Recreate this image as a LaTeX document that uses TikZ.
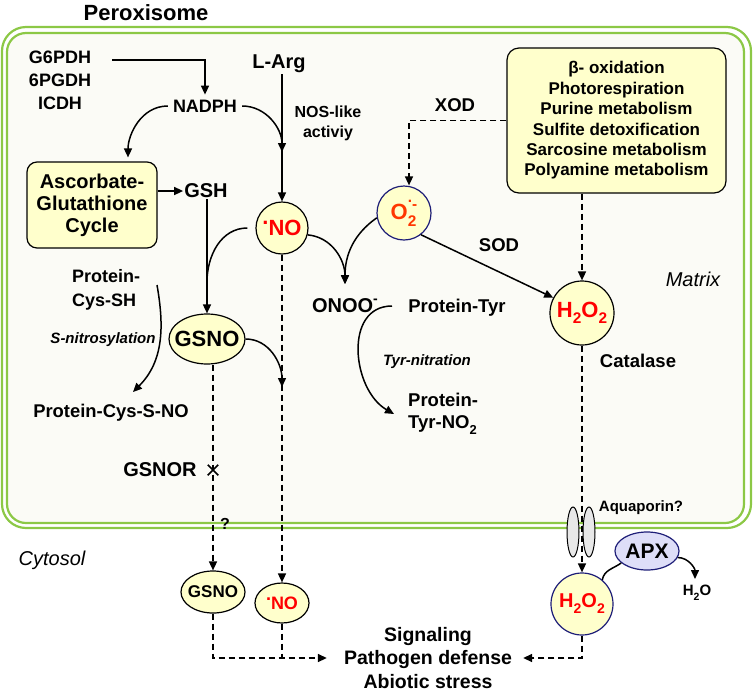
\documentclass[tikz,border=0pt]{standalone}
\usepackage{fontspec}
\usepackage{graphicx}
\setmainfont{Liberation Sans}
\usetikzlibrary{arrows.meta,shapes.geometric,shapes.misc,calc}
\definecolor{memb}{RGB}{140,200,70}
\definecolor{yel}{RGB}{255,255,204}
\definecolor{inside}{RGB}{251,251,246}
\definecolor{lav}{RGB}{222,222,248}
\definecolor{navy}{RGB}{30,30,120}
\definecolor{ored}{RGB}{255,55,0}
\definecolor{aqg}{RGB}{232,232,232}
\newcommand\fs[2]{\fontsize{#1}{#2}\selectfont}
\newcommand\mysub[1]{\raisebox{-0.3em}{\scalebox{0.7}{#1}}}
\newcommand\mysup[1]{\raisebox{0.45em}{\scalebox{0.7}{#1}}}
\newcommand\rdot{\raisebox{0.5em}{.}}
\begin{document}
\begin{tikzpicture}[x=1pt,y=-1pt,
  every node/.style={inner sep=1pt},
  arr/.style={line width=1.5pt,-{Triangle[length=9pt,width=8pt]}},
  ln/.style={line width=1.5pt},
  darr/.style={line width=1.5pt,dash pattern=on 6pt off 4pt,-{Triangle[length=9pt,width=8pt]}},
  dln/.style={line width=1.5pt,dash pattern=on 6pt off 4pt},
  ybox/.style={draw,line width=1.2pt,fill=yel,rounded corners=10pt,align=center},
  ycirc/.style={circle,draw,line width=1.2pt,fill=yel,minimum size=#1,inner sep=0pt},
  yell/.style={ellipse,draw,line width=1.2pt,fill=yel,inner sep=0pt},
  b18/.style={font=\bfseries\fs{18}{22}},
  b20/.style={font=\bfseries\fs{20}{24}},
]
\useasboundingbox (0,0) rectangle (753,697);
% membrane
\draw[memb,line width=2.2pt,rounded corners=24pt] (2,27) rectangle (751,528);
\draw[memb,line width=2.2pt,fill=inside,rounded corners=19pt] (7,33) rectangle (744,523);
\node[font=\bfseries\fs{22}{26}] (perox) at (146,13) {Peroxisome};

% top left
\node[font=\bfseries\fs{18}{23},align=center] (enz) at (60,80) {G6PDH\\6PGDH\\ICDH};
\coordinate (e1) at (112,60);
\node[b18,inner sep=5pt] (nadph) at (205,106) {NADPH};
\node[b20] (larg) at (279,64) {L-Arg};
\node[font=\bfseries\fs{16}{20},align=center] (nos) at (328,123) {NOS-like\\activiy};
\node[ybox,font=\bfseries\fs{20}{22},minimum width=130pt,minimum height=86pt] (asc) at (92,205) {Ascorbate-\\Glutathione\\Cycle};
\node[b20] (gsh) at (206,191) {GSH};

% NO
\node[ycirc=52pt,text=red,font=\bfseries\fs{22}{24}] (no) at (282,228) {\rdot NO};
\coordinate (j1) at (282,152);
\draw[arr] (e1) -| (nadph.north);
\draw[arr] (nadph.east) to[out=0,in=90] (j1);
\draw[arr] (larg.south -| no.north) -- (no.north);
\draw[arr,shorten >=4pt] (nadph.west) to[out=180,in=90] ([xshift=36pt]asc.north);
\draw[arr] (asc.east |- gsh.west) -- (gsh.west);

% O2 and box
\node[ycirc=54pt,draw=navy,text=ored,font=\bfseries\fs{22}{24}] (o2) at (404,213) {O\rlap{\mysub{2}}\mysup{\rdot-}};
\node[ybox,font=\bfseries\fs{17}{20.4},minimum width=219pt,minimum height=145pt,rounded corners=12pt] (box) at (616.5,120.5) {β- oxidation\\Photorespiration\\Purine metabolism\\Sulfite detoxification\\Sarcosine metabolism\\Polyamine metabolism};
\node[font=\bfseries\fs{18.5}{22}] (xod) at (455,105) {XOD};
\draw[darr] (box.west) -| ([xshift=5pt]o2.north);
\node[ycirc=64pt,text=red,font=\bfseries\fs{22}{24}] (h2o2) at (582,313) {H\mysub{2}O\mysub{2}};
\draw[darr] (box.south -| h2o2.north) -- (h2o2.north);
\draw[arr] (o2.-52) -- (h2o2.152);
\node[font=\bfseries\fs{18.5}{22}] (sod) at (499,245) {SOD};
\node[font=\itshape\fs{20}{24}] (matrix) at (693,279) {Matrix};
\node[font=\bfseries\fs{18.5}{22}] (cat) at (638,361) {Catalase};

% GSNO
\node[yell,minimum width=76pt,minimum height=50pt] (gsno) at (207,339) {};
\node[font=\bfseries\fs{22}{24}] (gsnot) at (gsno) {GSNO};
\draw[arr] (gsh.south -| gsno.north) -- (gsno.north);
\coordinate (j2) at (207,282);
\draw[ln] ([xshift=-8pt]no.west) to[out=180,in=90] (j2);

% ONOO
\node[font=\bfseries\fs{20}{24}] (onoo) at (345,306) {ONOO\mysup{-}};
\coordinate (j3) at (345,284);
\draw[arr] (no.-15) to[out=-5,in=90] (j3);
\draw[arr] (o2.190) to[out=215,in=90] (j3);
\node[font=\bfseries\fs{18.5}{22}] (ptyr) at (457,308) {Protein-Tyr};
\node[font=\bfseries\itshape\fs{15}{18}] (tyrn) at (427,362) {Tyr-nitration};
\node[font=\bfseries\fs{18.5}{22},align=left,anchor=west] (ptno) at (407,414) {Protein-\\Tyr-NO\mysub{2}};
\coordinate (c2) at (392,306);
\draw[arr] (c2) to[out=180,in=150,looseness=1.15] ([xshift=-13pt]ptno.west);

% Cys
\node[font=\bfseries\fs{18}{24},align=left,anchor=west] (pcys) at (71,290) {Protein-\\Cys-SH};
\node[font=\bfseries\itshape\fs{15}{18}] (snit) at (103,340) {S-nitrosylation};
\node[font=\bfseries\fs{18.4}{22}] (pcsno) at (111,413) {Protein-Cys-S-NO};
\coordinate (c1) at (157,285);
\coordinate (j5) at (133,392);
\draw[arr] (c1) to[out=-80,in=45] (j5);

% cytosol
\node[yell,minimum width=64pt,minimum height=42pt] (cgsno) at (213,592) {};
\node[font=\bfseries\fs{17}{20}] (cgsnot) at (cgsno) {GSNO};
\node[yell,minimum width=54pt,minimum height=40pt,text=red,font=\bfseries\fs{18}{20}] (cno) at (282,603) {\rdot NO};
\coordinate (j4) at (282,387);
\draw[arr] (gsno.east) to[out=0,in=90] (j4);
\draw[darr] (no.south) -- (cno.north);
\draw[darr] (gsno.south -| cgsno.north) -- (cgsno.north);
\node[cross out,draw,line width=1.5pt,minimum size=9pt,inner sep=0pt] (xm) at (213,470) {};
\node[b20] (gsnor) at (160,470) {GSNOR};
\node[font=\bfseries\fs{16}{18}] (q) at (225,524) {?};
\node[font=\itshape\fs{20}{24}] (cyto) at (52,560) {Cytosol};

\node[font=\bfseries\fs{19.5}{23.5},align=center] (sig) at (428,658) {Signaling\\Pathogen defense\\Abiotic stress};
\draw[darr] (cgsno.south) |- ([xshift=-16pt]sig.west);
\draw[dln] (cno.south) -- (cno.south |- sig.west);

\node[ycirc=62pt,draw=navy,text=red,font=\bfseries\fs{20}{22}] (h2o2c) at (582,604) {H\mysub{2}O\mysub{2}};
\draw[darr] (h2o2.south) -- (h2o2c.north);
\draw[darr] (h2o2c.south) |- ([xshift=10pt]sig.east);
\node[ellipse,draw,line width=1pt,fill=aqg,minimum width=12pt,minimum height=50pt,inner sep=0pt] (aq1) at (573,532) {};
\node[ellipse,draw,line width=1pt,fill=aqg,minimum width=12pt,minimum height=50pt,inner sep=0pt] (aq2) at (589,532) {};
\node[font=\bfseries\fs{15}{18}] (aqt) at (641,508) {Aquaporin?};
\node[ellipse,draw=navy,fill=lav,line width=1.2pt,minimum width=64pt,minimum height=38pt,inner sep=0pt,font=\bfseries\fs{21}{24}] (apx) at (647,551) {APX};
\draw[ln] (h2o2c.50) to[out=80,in=215] (apx.205);
\node[font=\bfseries\fs{15}{18}] (h2o) at (697,593) {H\mysub{2}O};
\coordinate (j7) at (695,579);
\draw[arr] (apx.-12) to[out=0,in=90] (j7);
\end{tikzpicture}
\end{document}
